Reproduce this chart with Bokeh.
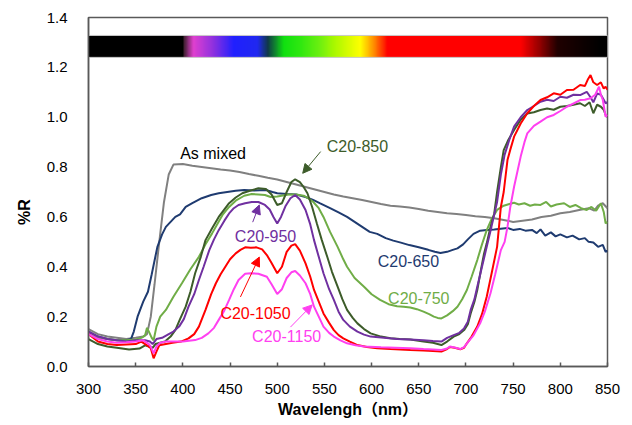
import numpy as np
from bokeh.plotting import figure
from bokeh.models import FixedTicker, Arrow, NormalHead, Label, NumeralTickFormatter, Range1d, Title
from bokeh.embed import file_html
from bokeh.resources import INLINE

# ---------------- data ----------------
x_ticks = [300, 350, 400, 450, 500, 550, 600, 650, 700, 750, 800, 850]
y_ticks = [0.0, 0.2, 0.4, 0.6, 0.8, 1.0, 1.2, 1.4]

wl_mixed = [300,310,320,330,340,350,358,362,366,370,375,380,385,390,400,410,420,430,440,450,460,470,480,490,500,510,520,530,540,550,560,570,580,590,600,610,620,630,640,650,660,670,680,690,700,710,720,730,740,750,760,770,780,790,800,810,820,830,836,840,845,850]
r_mixed = [0.15,0.13,0.12,0.115,0.11,0.115,0.12,0.13,0.2,0.33,0.5,0.66,0.77,0.81,0.812,0.805,0.80,0.795,0.79,0.786,0.78,0.772,0.765,0.757,0.75,0.74,0.73,0.72,0.71,0.70,0.69,0.682,0.675,0.668,0.66,0.652,0.645,0.642,0.638,0.632,0.625,0.62,0.615,0.612,0.608,0.603,0.60,0.595,0.588,0.58,0.585,0.59,0.60,0.605,0.615,0.62,0.628,0.635,0.625,0.645,0.655,0.635]

wl_650 = [300,310,320,330,340,345,348,352,358,363,367,373,378,382,387,392,397,403,410,420,430,438,447,456,465,475,488,495,500,510,520,530,538,545,556,565,574,582,590,598,606,615,623,631,640,650,660,667,673,680,686,691,697,702,708,715,722,730,737,744,750,757,763,770,775,779,784,790,795,800,807,813,820,826,830,835,840,845,848,850]
r_650 = [0.14,0.12,0.11,0.105,0.105,0.11,0.14,0.2,0.26,0.3,0.37,0.48,0.53,0.56,0.58,0.60,0.61,0.64,0.655,0.675,0.688,0.695,0.70,0.705,0.708,0.706,0.708,0.70,0.695,0.692,0.69,0.68,0.668,0.655,0.635,0.618,0.60,0.58,0.56,0.54,0.532,0.515,0.505,0.497,0.487,0.478,0.468,0.46,0.455,0.46,0.468,0.474,0.49,0.51,0.532,0.545,0.548,0.55,0.553,0.556,0.548,0.552,0.545,0.548,0.535,0.55,0.525,0.538,0.522,0.53,0.518,0.525,0.51,0.515,0.50,0.497,0.48,0.488,0.46,0.465]

wl_750 = [300,310,320,330,340,350,356,360,362,364,367,369,372,376,382,390,399,408,417,424,431,437,442,449,456,465,473,480,487,493,500,506,512,520,528,534,538,544,549,556,564,570,574,582,592,600,609,618,627,634,641,648,655,661,666,670,674,680,686,691,696,701,706,712,717,722,727,733,740,746,751,756,762,768,773,779,785,790,796,804,810,816,822,828,833,838,843,846,848,850]
r_750 = [0.13,0.115,0.11,0.105,0.105,0.108,0.115,0.125,0.155,0.14,0.115,0.105,0.16,0.2,0.227,0.28,0.334,0.39,0.44,0.49,0.534,0.575,0.608,0.64,0.665,0.685,0.692,0.69,0.688,0.68,0.682,0.686,0.69,0.69,0.685,0.672,0.661,0.635,0.60,0.54,0.48,0.43,0.40,0.355,0.32,0.29,0.267,0.25,0.242,0.24,0.237,0.23,0.22,0.21,0.2,0.195,0.193,0.205,0.222,0.24,0.27,0.307,0.36,0.427,0.49,0.547,0.59,0.628,0.645,0.652,0.657,0.65,0.655,0.645,0.65,0.648,0.66,0.642,0.65,0.655,0.64,0.648,0.635,0.628,0.64,0.625,0.655,0.62,0.574,0.58]

wl_850 = [300,310,320,330,343,354,360,364,368,371,376,381,387,392,397,403,408,413,419,424,431,438,444,449,456,463,471,480,488,494,500,505,510,515,519,524,528,532,537,542,547,553,558,564,569,574,580,585,592,599,610,620,630,641,655,665,674,680,687,693,698,702,705,709,712,716,719,722,726,730,733,737,740,745,751,758,765,772,779,786,793,800,807,814,821,826,831,835,839,843,846,848,850]
r_850 = [0.11,0.09,0.08,0.075,0.068,0.072,0.085,0.08,0.075,0.09,0.095,0.1,0.12,0.146,0.19,0.24,0.3,0.374,0.44,0.507,0.555,0.60,0.63,0.655,0.678,0.695,0.705,0.715,0.712,0.69,0.648,0.655,0.70,0.74,0.751,0.74,0.72,0.695,0.64,0.574,0.51,0.44,0.38,0.32,0.27,0.227,0.195,0.173,0.15,0.133,0.12,0.113,0.11,0.108,0.1,0.095,0.086,0.1,0.12,0.13,0.146,0.17,0.213,0.26,0.307,0.39,0.45,0.494,0.56,0.614,0.70,0.80,0.868,0.91,0.949,0.99,1.015,1.02,1.029,1.035,1.03,1.042,1.045,1.05,1.056,1.045,1.06,1.016,1.05,1.042,1.03,1.009,1.0]

wl_950 = [300,310,320,330,340,350,360,365,368,372,378,385,390,396,401,406,412,417,422,428,433,438,444,449,454,459,466,473,480,487,492,496,500,504,509,514,519,524,530,535,539,544,549,555,560,565,570,577,585,592,599,613,627,641,655,665,674,680,687,693,698,702,705,709,712,717,722,727,733,737,741,746,751,758,765,772,779,786,793,800,807,814,821,828,832,835,839,843,846,848,850]
r_950 = [0.14,0.12,0.11,0.105,0.10,0.105,0.105,0.10,0.09,0.11,0.115,0.13,0.14,0.16,0.19,0.24,0.29,0.347,0.40,0.467,0.51,0.547,0.585,0.614,0.635,0.648,0.655,0.66,0.66,0.648,0.63,0.60,0.574,0.60,0.645,0.675,0.688,0.67,0.628,0.57,0.507,0.44,0.374,0.31,0.267,0.22,0.187,0.16,0.14,0.128,0.12,0.115,0.11,0.108,0.105,0.102,0.1,0.115,0.126,0.135,0.153,0.18,0.227,0.27,0.32,0.40,0.48,0.56,0.66,0.77,0.85,0.91,0.962,1.0,1.029,1.045,1.062,1.07,1.065,1.082,1.078,1.09,1.089,1.102,1.08,1.06,1.095,1.09,1.07,1.056,1.06]

wl_1050 = [300,310,320,330,340,350,356,362,366,369,372,375,382,389,398,406,412,417,424,430,435,440,445,450,456,461,466,472,478,484,489,494,500,505,510,515,519,524,530,535,539,544,549,555,560,565,570,577,585,595,606,620,641,655,665,674,680,683,688,694,698,701,706,712,717,722,727,733,737,740,744,747,751,758,765,772,779,786,793,800,807,814,821,826,829,832,835,839,843,846,848,850]
r_1050 = [0.13,0.1,0.09,0.086,0.088,0.09,0.1,0.085,0.073,0.033,0.06,0.085,0.09,0.095,0.1,0.113,0.13,0.16,0.227,0.29,0.334,0.37,0.40,0.43,0.454,0.468,0.478,0.476,0.478,0.47,0.447,0.415,0.374,0.40,0.46,0.485,0.491,0.465,0.414,0.36,0.307,0.26,0.213,0.175,0.146,0.126,0.113,0.1,0.086,0.078,0.073,0.07,0.066,0.064,0.062,0.06,0.07,0.078,0.075,0.069,0.075,0.093,0.12,0.16,0.21,0.28,0.37,0.48,0.64,0.70,0.828,0.87,0.922,0.975,1.016,1.045,1.069,1.08,1.096,1.09,1.109,1.11,1.129,1.125,1.15,1.169,1.14,1.129,1.14,1.115,1.122,1.11]

wl_1150 = [300,310,320,330,340,350,358,364,366,369,372,376,382,390,400,413,420,427,433,438,444,449,454,459,466,472,480,489,494,500,505,510,515,519,524,530,535,539,544,549,555,560,567,574,583,592,610,625,641,655,665,674,680,683,688,694,698,701,708,715,720,726,731,737,741,744,747,751,755,758,762,765,772,779,786,793,800,807,814,821,826,832,837,841,843,845,848,850]
r_1150 = [0.13,0.11,0.1,0.095,0.097,0.1,0.105,0.09,0.08,0.053,0.08,0.095,0.1,0.1,0.1,0.106,0.115,0.133,0.155,0.187,0.225,0.267,0.31,0.347,0.372,0.374,0.372,0.36,0.33,0.291,0.31,0.355,0.378,0.383,0.365,0.334,0.29,0.24,0.2,0.16,0.135,0.12,0.105,0.093,0.085,0.08,0.077,0.075,0.073,0.07,0.068,0.066,0.072,0.08,0.076,0.07,0.078,0.093,0.125,0.173,0.22,0.294,0.37,0.467,0.5,0.56,0.64,0.721,0.79,0.842,0.9,0.935,0.965,0.982,1.0,1.009,1.025,1.042,1.055,1.069,1.07,1.076,1.09,1.122,1.09,1.07,1.002,1.01]

series_names = ["As mixed", "C20-650", "C20-750", "C20-850", "C20-950", "C20-1050", "C20-1150"]
x_title = "Wavelengh（nm）"
y_title = "%R"

# spectrum colour strip stops (wavelength, colour)
spec_wl = [300, 400, 401, 411, 433, 454, 479, 490, 507, 525, 546, 560, 588, 602, 617, 758, 779, 797, 843, 850]
spec_col = ["#000000", "#000000", "#402030", "#E040D0", "#8A30E0", "#2020FF", "#2028F0", "#103848", "#10E010", "#30E810", "#70F010", "#A8F800", "#FFFF00", "#FF9000", "#FF0000", "#FF0000", "#900000", "#200000", "#000000", "#000000"]

# ---------------- styling ----------------
colors = {
    "As mixed": "#808080",
    "C20-650": "#1F3B70",
    "C20-750": "#70AD47",
    "C20-850": "#3D5C2A",
    "C20-950": "#7030A0",
    "C20-1050": "#FF0000",
    "C20-1150": "#FF40F0",
}
FONT = "Liberation Sans"

p = figure(width=624, height=425, output_backend="svg", toolbar_location=None,
           x_range=Range1d(300, 850), y_range=Range1d(0, 1.4),
           min_border_left=88, min_border_right=17, min_border_top=17, min_border_bottom=59)
p.background_fill_color = "white"
p.border_fill_color = "white"
p.outline_line_color = "#595959"
p.outline_line_width = 1.5
p.xgrid.visible = False
p.ygrid.visible = False

# spectrum strip as an image
def hex2rgb(h):
    return [int(h[i:i + 2], 16) for i in (1, 3, 5)]

grid_wl = np.linspace(300, 850, 1101)
rgb = np.array([hex2rgb(c) for c in spec_col], dtype=float)
chan = [np.interp(grid_wl, spec_wl, rgb[:, k]) for k in range(3)]
img = np.zeros((1, len(grid_wl)), dtype=np.uint32)
view = img.view(dtype=np.uint8).reshape((1, len(grid_wl), 4))
view[0, :, 0] = np.round(chan[0]).astype(np.uint8)
view[0, :, 1] = np.round(chan[1]).astype(np.uint8)
view[0, :, 2] = np.round(chan[2]).astype(np.uint8)
view[0, :, 3] = 255
p.image_rgba(image=[img], x=300, y=1.24, dw=550, dh=0.088)
p.quad(left=[300], right=[850], bottom=[1.24], top=[1.328], fill_alpha=0, line_color="#C8C8C8", line_width=1)

series = [
    ("As mixed", wl_mixed, r_mixed),
    ("C20-650", wl_650, r_650),
    ("C20-750", wl_750, r_750),
    ("C20-850", wl_850, r_850),
    ("C20-950", wl_950, r_950),
    ("C20-1050", wl_1050, r_1050),
    ("C20-1150", wl_1150, r_1150),
]
for name, xs, ys in series:
    p.line(xs, ys, line_color=colors[name], line_width=2)

# axes
p.xaxis.ticker = FixedTicker(ticks=x_ticks)
p.yaxis.ticker = FixedTicker(ticks=y_ticks)
p.yaxis.formatter = NumeralTickFormatter(format="0.0")
for ax in (p.xaxis[0], p.yaxis[0]):
    ax.axis_line_color = "#595959"
    ax.axis_line_width = 1.5
    ax.minor_tick_line_color = None
    ax.major_label_text_font = FONT
    ax.major_label_text_font_size = "15px"
    ax.major_label_text_color = "#000000"
    ax.axis_label_text_font = FONT
    ax.axis_label_text_font_size = "16px"
    ax.axis_label_text_font_style = "bold"
    ax.axis_label_text_color = "#000000"
p.xaxis.major_tick_in = 4
p.xaxis.major_tick_out = 0
p.xaxis.major_tick_line_color = "#595959"
p.xaxis.major_tick_line_width = 1.5
p.yaxis.major_tick_in = 0
p.yaxis.major_tick_out = 0
p.yaxis.major_tick_line_color = None
p.xaxis.major_label_standoff = 17
p.yaxis.major_label_standoff = 21
p.yaxis.axis_label = y_title + "\u00a0" * 9
p.yaxis.axis_label_standoff = 11

# x-axis title as a title panel below the axis (centred on the frame)
p.add_layout(Title(text=x_title, align="center", text_color="#000000",
                   text_font=FONT + ", Noto Sans CJK JP", text_font_size="16px",
                   text_font_style="bold", standoff=4), "below")

# annotations: (text, colour, x, y, arrow start/end or None)
annos = [
    ("As mixed", "#000000", 432, 0.854, None),
    ("C20-850", colors["C20-850"], 585, 0.882, (546, 0.862, 527, 0.775)),
    ("C20-950", colors["C20-950"], 487.6, 0.523, (474, 0.579, 481, 0.648)),
    ("C20-1050", colors["C20-1050"], 477, 0.213, (461, 0.279, 481, 0.439)),
    ("C20-1150", colors["C20-1150"], 510, 0.12, (514, 0.158, 537, 0.247)),
    ("C20-650", colors["C20-650"], 639, 0.421, None),
    ("C20-750", colors["C20-750"], 650, 0.273, None),
]
for text, col, lx, ly, arr in annos:
    p.add_layout(Label(x=lx, y=ly, text=text, text_color=col, text_font=FONT,
                       text_font_size="16px", text_align="center", text_baseline="middle"))
    if arr is not None:
        p.add_layout(Arrow(end=NormalHead(size=9, fill_color=col, line_color=col),
                           x_start=arr[0], y_start=arr[1], x_end=arr[2], y_end=arr[3],
                           line_color=col, line_width=1))

open("out.html", "w").write(file_html(p, INLINE))
